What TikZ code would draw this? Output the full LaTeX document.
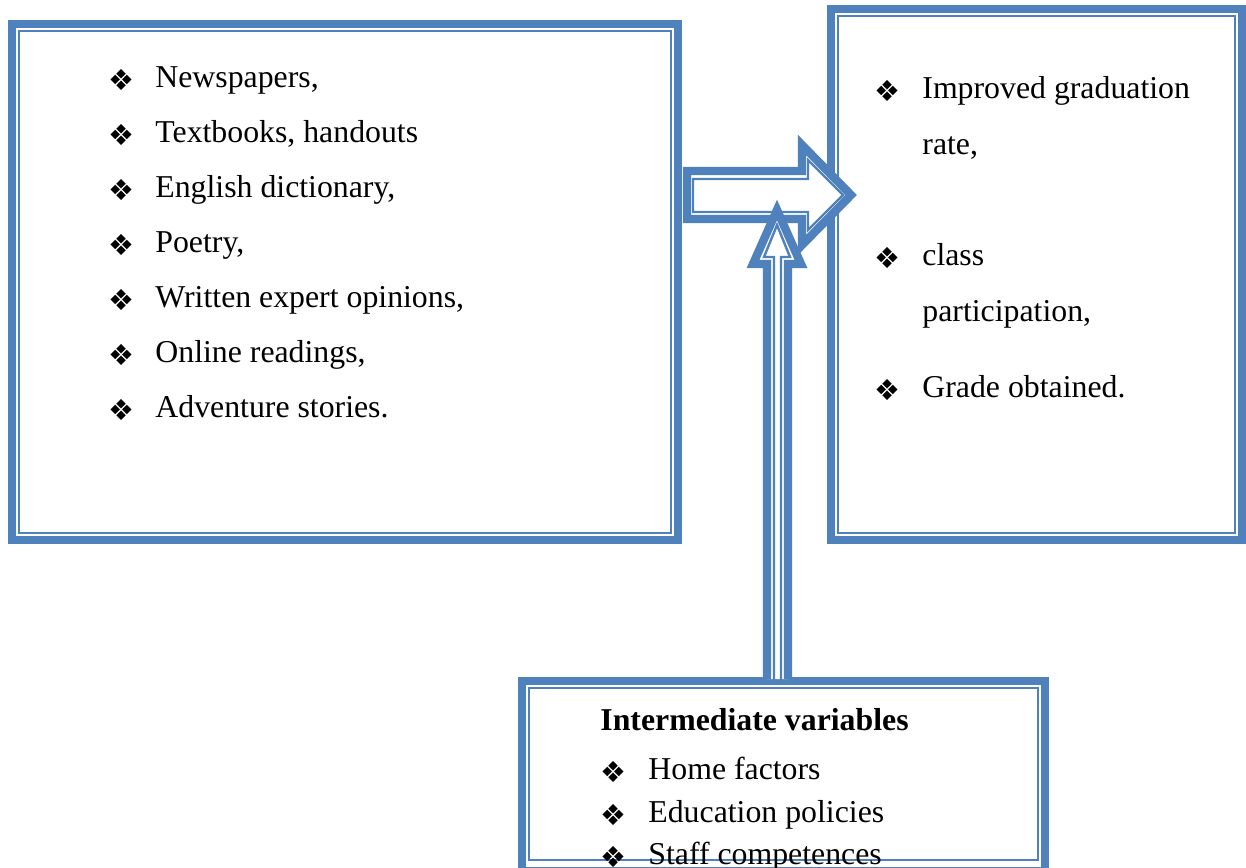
\documentclass[tikz,border=0pt]{standalone}
\usepackage{fontspec}
\setmainfont{Liberation Serif}
\newfontfamily\dingfont{DejaVu Sans}
\usetikzlibrary{positioning}
\definecolor{frameblue}{HTML}{4F81BD}
\tikzset{
    thickrim/.style = {draw=frameblue, line width=4.2pt},
    thinrim/.style = {draw=frameblue, line width=1.2pt},
    bul/.style = {inner sep=0pt, font=\dingfont\fontsize{14.5}{14.5}\selectfont},
    itemtext/.style = {anchor=base west, inner sep=0pt, font=\fontsize{15.9}{15.9}\selectfont},
}

\begin{document}
\begin{tikzpicture}[x=0.5pt,y=-0.5pt]
    \useasboundingbox (0,0) rectangle (1246,867);
    \clip (0,0) rectangle (1246,867);
    
    % left box
    \draw[thickrim] (12,24) rectangle (678,540);
    \draw[thinrim] (19,31) rectangle (671,533);
    
    % right box
    \draw[thickrim] (831,9) rectangle (1242,540);
    \draw[thinrim] (838,16) rectangle (1235,533);
    
    % bottom box
    \draw[thickrim] (522,681) rectangle (1045,871);
    \draw[thinrim] (529,688) rectangle (1038,860);
    
    % horizontal arrow
    \draw[thickrim, fill=white] (687,171) -- (802,171) -- (802,145) -- (851,195) -- (802,245) -- (802,219) -- (687,219) -- cycle;
    \draw[thinrim] (693,179) -- (808,179) -- (808,160) -- (843,195) -- (808,230) -- (808,212) -- (693,212) -- cycle;
    
    % vertical arrow
    \draw[thickrim, fill=white] (767,679) -- (767,264) -- (753,264) -- (777,210) -- (801,264) -- (788,264) -- (788,679);
    \draw[thinrim] (774,682) -- (774,257) -- (764,257) -- (777,225) -- (790,257) -- (781,257) -- (781,682);
    
    % inputs
    \node[bul] (b1) at (121,80) {❖};
    \node[itemtext] (news) at (155,87) {Newspapers,};
    \node[bul] (b2) at (121,135) {❖};
    \node[itemtext] (text) at (155,142) {Textbooks, handouts};
    \node[bul] (b3) at (121,190) {❖};
    \node[itemtext] (dict) at (155,197) {English dictionary,};
    \node[bul] (b4) at (121,245) {❖};
    \node[itemtext] (poet) at (155,252) {Poetry,};
    \node[bul] (b5) at (121,300) {❖};
    \node[itemtext] (expert) at (155,307) {Written expert opinions,};
    \node[bul] (b6) at (121,355) {❖};
    \node[itemtext] (online) at (155,362) {Online readings,};
    \node[bul] (b7) at (121,410) {❖};
    \node[itemtext] (adv) at (155,417) {Adventure stories.};
    
    % outcomes
    \node[bul] (r1) at (887,91) {❖};
    \node[itemtext] (grad) at (922,98) {Improved graduation};
    \node[itemtext] (rate) at (922,154) {rate,};
    \node[bul] (r2) at (887,258) {❖};
    \node[itemtext] (class) at (922,265) {class};
    \node[itemtext] (part) at (922,321) {participation,};
    \node[bul] (r3) at (887,390) {❖};
    \node[itemtext] (grade) at (922,397) {Grade obtained.};
    
    % intermediate variables
    \node[itemtext, font=\fontsize{15.9}{15.9}\selectfont\bfseries] (inter) at (600,730) {Intermediate variables};
    \node[bul] (m1) at (613,772) {❖};
    \node[itemtext] (home) at (648,779) {Home factors};
    \node[bul] (m2) at (613,815) {❖};
    \node[itemtext] (policy) at (648,822) {Education policies};
    \node[bul] (m3) at (613,857) {❖};
    \node[itemtext] (staff) at (648,864) {Staff competences};
    
\end{tikzpicture}
\end{document}
